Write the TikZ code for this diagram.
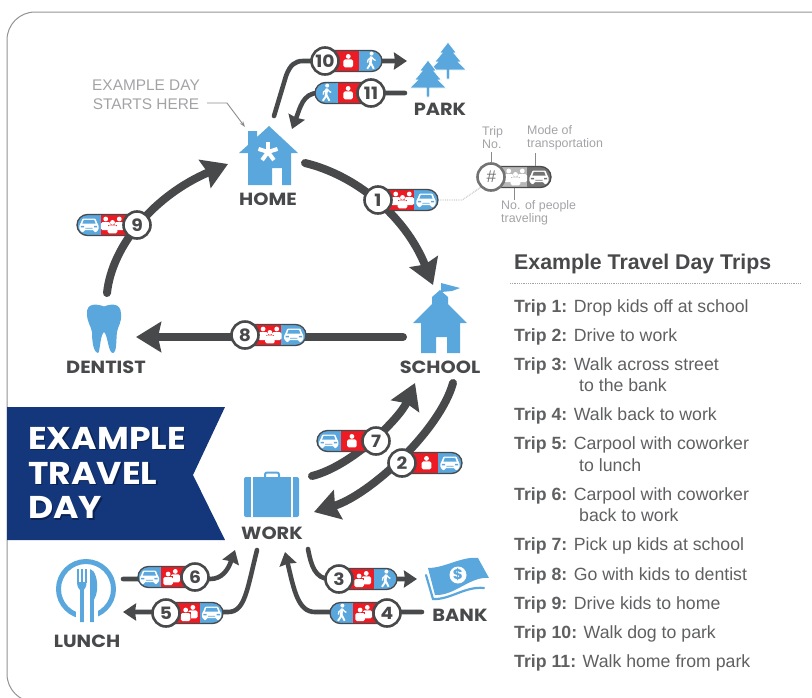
\documentclass[tikz,border=0pt]{standalone}
\usepackage{fontspec}
\setmainfont{Liberation Sans}
\newfontfamily\placefont{Poppins}[FakeStretch=1.1]
\usetikzlibrary{arrows.meta}

\definecolor{tripdark}{HTML}{48494B}
\definecolor{tripblue}{HTML}{5AA7DD}
\definecolor{tripred}{HTML}{ED1C24}
\definecolor{bannerblue}{HTML}{13377A}
\definecolor{bannershade}{HTML}{0B2252}
\definecolor{notegray}{HTML}{A2A3A6}
\definecolor{listgray}{HTML}{5F6062}
\colorlet{peopleback}{tripred}
\colorlet{modeback}{tripblue}

\tikzset{
  bigtrip/.style = {draw=tripdark, line width=8pt, line cap=round,
    -{Stealth[length=25pt,width=30pt,inset=3pt]}},
  smalltrip/.style = {draw=tripdark, line width=4.6pt, line cap=round,
    -{Stealth[length=13pt,width=17pt,inset=1pt]}},
  tripnum/.style = {shape=circle, draw=tripdark, fill=white, line width=2.6pt,
    minimum size=27pt, inner sep=0pt, font=\placefont\bfseries\fontsize{17}{17}\selectfont,
    text=tripdark},
  placename/.style = {font=\placefont\bfseries\fontsize{17.6}{18}\selectfont,
    text=tripdark, inner sep=0pt},
  notetext/.style = {font=\fontsize{12.4}{13.6}\selectfont, text=notegray,
    align=left, inner sep=0pt},
  noteline/.style = {draw=notegray!85!black, line width=.9pt},
  triptext/.style = {font=\fontsize{17.7}{21}\selectfont, text=listgray,
    inner sep=0pt, anchor=base west},
  personone/.pic = {
    \fill[white] (0,-4.6) circle[radius=2.4pt];
    \fill[white,rounded corners=1.6pt] (-4.8,6.4) -- (-4.8,-1.6) -- (4.8,-1.6) -- (4.8,6.4) -- cycle;
  },
  peopletwo/.pic = {
    \begin{scope}[shift={(3.6,-1)},scale=.85]
      \pic {personone};
    \end{scope}
    \begin{scope}[shift={(-3.6,1.6)},scale=.85]
      \fill[peopleback] (-6,-2.6) rectangle (6,7);
      \pic {personone};
    \end{scope}
  },
  peoplethree/.pic = {
    \begin{scope}[shift={(-6.8,-1.4)},scale=.72]
      \pic {personone};
    \end{scope}
    \begin{scope}[shift={(6.8,-1.4)},scale=.72]
      \pic {personone};
    \end{scope}
    \begin{scope}[shift={(0,2)},scale=.72]
      \fill[peopleback] (-5.8,-2.6) rectangle (5.8,6.6);
      \pic {personone};
    \end{scope}
  },
  caricon/.pic = {
    \fill[white,rounded corners=1pt] (-6.5,-6.5) -- (6.5,-6.5) -- (8.4,-1.4) -- (9.6,0) -- (9.6,5)
      -- (8,5) -- (8,7) -- (5,7) -- (5,5) -- (-5,5) -- (-5,7) -- (-8,7) -- (-8,5) -- (-9.6,5)
      -- (-9.6,0) -- (-8.4,-1.4) -- cycle;
    \fill[modeback] (-5.2,-5.2) -- (5.2,-5.2) -- (6.6,-1.4) -- (-6.6,-1.4) -- cycle;
    \fill[modeback] (-8.2,.8) rectangle (-5,2.4) (5,.8) rectangle (8.2,2.4) (-3.6,2.8) rectangle (3.6,3.6);
  },
  walkicon/.pic = {
    \fill[white] (1,-7.4) circle[radius=2pt];
    \draw[white,line width=2.6pt] (.8,-4.4) -- (-.2,1.4);
    \draw[white,line width=1.9pt] (-.2,1) -- (3.2,7.8) (-.2,1) -- (-.8,4) -- (-3.4,7.8);
    \draw[white,line width=1.3pt] (.8,-4) -- (-2.6,-1) -- (-3,1.6) (.8,-4) -- (3.4,-1.4) -- (5,-.6);
  },
  pinetree/.pic = {
    \path[fill=tripblue,draw=white,line width=.8pt] (0,0) -- (8.5,11) -- (6,11) -- (13.5,20) -- (10.5,20) -- (18.5,28)
      -- (1.7,28) -- (1.7,37) -- (-1.7,37) -- (-1.7,28) -- (-18.5,28) -- (-10.5,20) -- (-13.5,20)
      -- (-6,11) -- (-8.5,11) -- cycle;
  },
}

\newcommand{\tripbadge}[8]{%
  \begin{scope}[shift={(#3,#4)},xscale=#5*#6/60]
    \path[fill=modeback,rounded corners=10.5pt] (-10,-10.5) rectangle (60,10.5);
    \fill[peopleback] (10,-10.5) rectangle (36,10.5);
    \draw[tripdark,line width=1.3pt,rounded corners=10.5pt] (-10,-10.5) rectangle (60,10.5);
    \fill[modeback] (35.8,-9.8) rectangle (37,9.8);
    \pic at (24.5,0) {#7};
    \pic at (48,0) {#8};
    \coordinate (#1end) at (60,0);
    \node[tripnum] (#1) at (0,0) {#2};
  \end{scope}}

\newcommand{\bannerline}[1]{\rlap{\textcolor{bannershade}{\raisebox{-1.6pt}{\hspace{1.6pt}#1}}}#1}

\begin{document}
\begin{tikzpicture}[x=1pt,y=-1pt]
  \useasboundingbox (0,0) rectangle (812,697);
  \clip (0,0) rectangle (812,697);
  \draw[gray!85,line width=1pt,rounded corners=28pt] (840,12) -- (7,12) -- (7,702) -- (840,702);

  % banner
  \fill[bannerblue] (7,407) -- (225,407) -- (193,475) -- (225,540) -- (7,540) -- cycle;
  \node[anchor=north west, inner sep=0pt, align=left, text=white,
    font=\placefont\bfseries\fontsize{31.5}{34.7}\selectfont] (banner) at (28,427)
    {\bannerline{EXAMPLE}\\\bannerline{TRAVEL}\\\bannerline{DAY}};

  % places
  \fill[tripblue] (269,126) -- (257,137) -- (257,131) -- (248,131) -- (248,145) -- (239,153) -- (248,153)
    -- (248,185) -- (272,185) -- (272,168) -- (282,168) -- (282,185) -- (291,185) -- (291,153)
    -- (298,153) -- cycle;
  \foreach \a in {-90,-18,54,126,198}
    \draw[white,line width=4pt] (268,152) -- ++(\a:10);
  \node[placename] (home) at (268,199) {HOME};

  \fill[tripblue] (440,290) -- (448,297) -- (448,304) -- (467,323) -- (460,323) -- (460,353) -- (447,353)
    -- (447,337) -- (436,337) -- (436,353) -- (421,353) -- (421,323) -- (413,323) -- (432,304)
    -- (432,297) -- cycle;
  \draw[tripblue,line width=1pt] (441,291) -- (441,283);
  \fill[tripblue] (441,283) -- (460,288) -- (452,291) -- (441,292) -- cycle;
  \node[placename] (school) at (440,367) {SCHOOL};

  \fill[tripblue] (104,306.5) .. controls (98,304) and (86,302) .. (87,314)
    .. controls (87,322) and (91,326) .. (92,332) .. controls (92,340) and (93,352) .. (98,353)
    .. controls (100,353) and (100,335) .. (104,332) .. controls (108,335) and (108,353) .. (113,353)
    .. controls (117,352) and (116,340) .. (117,332) .. controls (118,326) and (122,322) .. (121,314)
    .. controls (121,302) and (110,304) .. (104,306.5) -- cycle;
  \node[placename] (dentist) at (106,367) {DENTIST};

  \fill[tripblue,rounded corners=2pt] (244,477) rectangle (299,517);
  \draw[white,line width=1.4pt] (252,477) -- (252,517) (292,477) -- (292,517);
  \draw[tripblue,line width=2pt,rounded corners=2pt] (265,477) -- (265,472.5) -- (279,472.5) -- (279,477);
  \node[placename] (work) at (272,533) {WORK};

  \draw[tripblue,line width=5pt] (86,589) circle[radius=27.5pt];
  \draw[white,line width=13pt] (82,610) -- (82,622);
  \draw[white,line width=12pt] (92,610) -- (92,622);
  \draw[tripblue,line width=1.6pt] (77.8,569) -- (77.8,583) (81.8,569) -- (81.8,583) (85.8,569) -- (85.8,583);
  \fill[tripblue] (77,582) -- (86.6,582) .. controls (86.6,587) and (84.5,589) .. (83.8,590) -- (83.8,622)
    -- (80,622) -- (80,590) .. controls (79,589) and (77,587) .. (77,582) -- cycle;
  \fill[tripblue] (90,622) -- (90,569) .. controls (95,570) and (98,580) .. (97,590)
    .. controls (96.5,595) and (95,598) .. (93.8,600) -- (93.8,622) -- cycle;
  \node[placename] (lunch) at (87,641) {LUNCH};

  \fill[tripblue] (428,568) .. controls (445,568) and (462,556) .. (478,558) -- (489,578)
    .. controls (470,576) and (455,596) .. (435,595) -- cycle;
  \draw[tripblue,line width=2.2pt,line cap=round] (426,575) -- (433,599)
    .. controls (450,600) and (465,586) .. (484,588);
  \node[shape=circle, fill=white, minimum size=17pt, inner sep=0pt, text=tripblue,
    font=\placefont\bfseries\fontsize{14}{14}\selectfont] (money) at (458,575) {\$};
  \node[placename] (bank) at (460,615) {BANK};

  \pic at (448,42) {pinetree};
  \pic at (428,60) {pinetree};
  \node[placename] (park) at (440,109) {PARK};

  % ends of the connectors
  \coordinate (homeout) at (305,163);
  \coordinate (schoolin) at (433,285);
  \coordinate (schoolout) at (453,383);
  \coordinate (workin) at (314,512);
  \coordinate (workout) at (312,476);
  \coordinate (schoolback) at (415,383);
  \coordinate (schoolleft) at (403,337);
  \coordinate (dentistin) at (136,337);
  \coordinate (dentistout) at (107,293);
  \coordinate (homein) at (228,164);
  \coordinate (homeup) at (274,116);
  \coordinate (parkin) at (407,61);
  \coordinate (parkout) at (405,93);
  \coordinate (homeback) at (292,129);
  \coordinate (workdown) at (308,549);
  \coordinate (bankin) at (417,579);
  \coordinate (bankout) at (422,612);
  \coordinate (workbank) at (285,552);
  \coordinate (worklunch) at (257,550);
  \coordinate (lunchin) at (123,612);
  \coordinate (lunchout) at (123,579);
  \coordinate (worklunchin) at (235,550);
  \coordinate (startfrom) at (207,103);

  \draw[bigtrip] (homeout) .. controls (355,175) and (405,215) .. (schoolin);
  \draw[bigtrip] (schoolout) .. controls (440,430) and (370,495) .. (workin);
  \draw[bigtrip] (workout) .. controls (352,466) and (400,418) .. (schoolback);
  \draw[bigtrip] (schoolleft) -- (dentistin);
  \draw[bigtrip] (dentistout) .. controls (112,245) and (155,195) .. (homein);
  \draw[smalltrip] (homeup) -- (286,76) .. controls (290,65) and (295,61) .. (303,61) -- (parkin);
  \draw[smalltrip] (parkout) -- (318,93) .. controls (303,93) and (300,108) .. (homeback);
  \draw[smalltrip] (workdown) .. controls (311,565) and (315,579) .. (330,579) -- (bankin);
  \draw[smalltrip] (bankout) -- (315,612) .. controls (298,612) and (294,590) .. (workbank);
  \draw[smalltrip] (worklunch) .. controls (247,590) and (245,612) .. (228,612) -- (lunchin);
  \draw[smalltrip] (lunchout) -- (210,579) .. controls (222,579) and (228,570) .. (worklunchin);

  % trips
  \tripbadge{trip1}{1}{378}{200}{1}{60}{peoplethree}{caricon}
  \tripbadge{trip2}{2}{402}{463}{1}{60}{personone}{caricon}
  \tripbadge{trip3}{3}{339}{579}{1}{58}{peopletwo}{walkicon}
  \tripbadge{trip4}{4}{387}{613}{-1}{57}{peopletwo}{walkicon}
  \tripbadge{trip5}{5}{166}{613}{1}{57}{peopletwo}{caricon}
  \tripbadge{trip6}{6}{195}{577}{-1}{57}{peopletwo}{caricon}
  \tripbadge{trip7}{7}{376}{441}{-1}{59}{personone}{caricon}
  \tripbadge{trip8}{8}{245}{335}{1}{61}{peoplethree}{caricon}
  \tripbadge{trip9}{9}{137}{225}{-1}{60}{peoplethree}{caricon}
  \tripbadge{trip10}{10}{325}{61}{1}{57}{personone}{walkicon}
  \tripbadge{trip11}{11}{371}{93}{-1}{56}{personone}{walkicon}

  % key
  \begin{scope}
    \colorlet{peopleback}{black!28}
    \colorlet{modeback}{black!55}
    \tikzset{tripnum/.append style={draw=black!55,text=black!55,font=\itshape\fontsize{17}{17}\selectfont}}
    \tripbadge{key}{\#}{491}{177}{1}{60}{peoplethree}{caricon}
  \end{scope}
  \draw[notegray,densely dotted,line width=.8pt] (trip1end) -- (462,200) -- (key.225);
  \draw[noteline] (key.north) -- ++(0,-10);
  \draw[noteline] (535,166) -- (535,153);
  \draw[noteline] (514,188) -- (514,200);
  \node[notetext, anchor=north west] (keyno) at (482,126) {Trip\\No.};
  \node[notetext, anchor=north west] (keymode) at (527,125) {Mode of\\transportation};
  \node[notetext, anchor=north west] (keypeople) at (501,200) {No. of people\\traveling};

  \node[inner sep=0pt, align=center, text=notegray, font=\fontsize{15.4}{19.5}\selectfont] (startnote) at (146,95)
    {EXAMPLE DAY\\STARTS HERE};
  \draw[noteline,-{Stealth[length=6pt,width=4pt]}] (startfrom) -- (227,103) -- (245,127);

  % list of trips
  \node[anchor=base west, inner sep=0pt, text=tripdark, font=\bfseries\fontsize{21.3}{22}\selectfont] (listtitle)
    at (514,269) {Example Travel Day Trips};
  \draw[notegray,densely dotted,line width=.8pt] (510,283) -- (801,283);
  \foreach \n/\ypos/\txt in {1/312/Drop kids off at school, 2/341/Drive to work,
    3/370/Walk across street, 4/420/Walk back to work,
    5/449/Carpool with coworker, 6/500/Carpool with coworker,
    7/550/Pick up kids at school, 8/580/Go with kids to dentist, 9/609/Drive kids to home,
    10/638/Walk dog to park, 11/667/Walk home from park}
    \node[triptext] (line\n) at (514,\ypos) {\textbf{Trip \n:} \txt};
  \foreach \n/\ypos/\txt in {3/391/to the bank, 5/471/to lunch, 6/521/back to work}
    \node[triptext] (more\n) at (579,\ypos) {\txt};
\end{tikzpicture}
\end{document}
